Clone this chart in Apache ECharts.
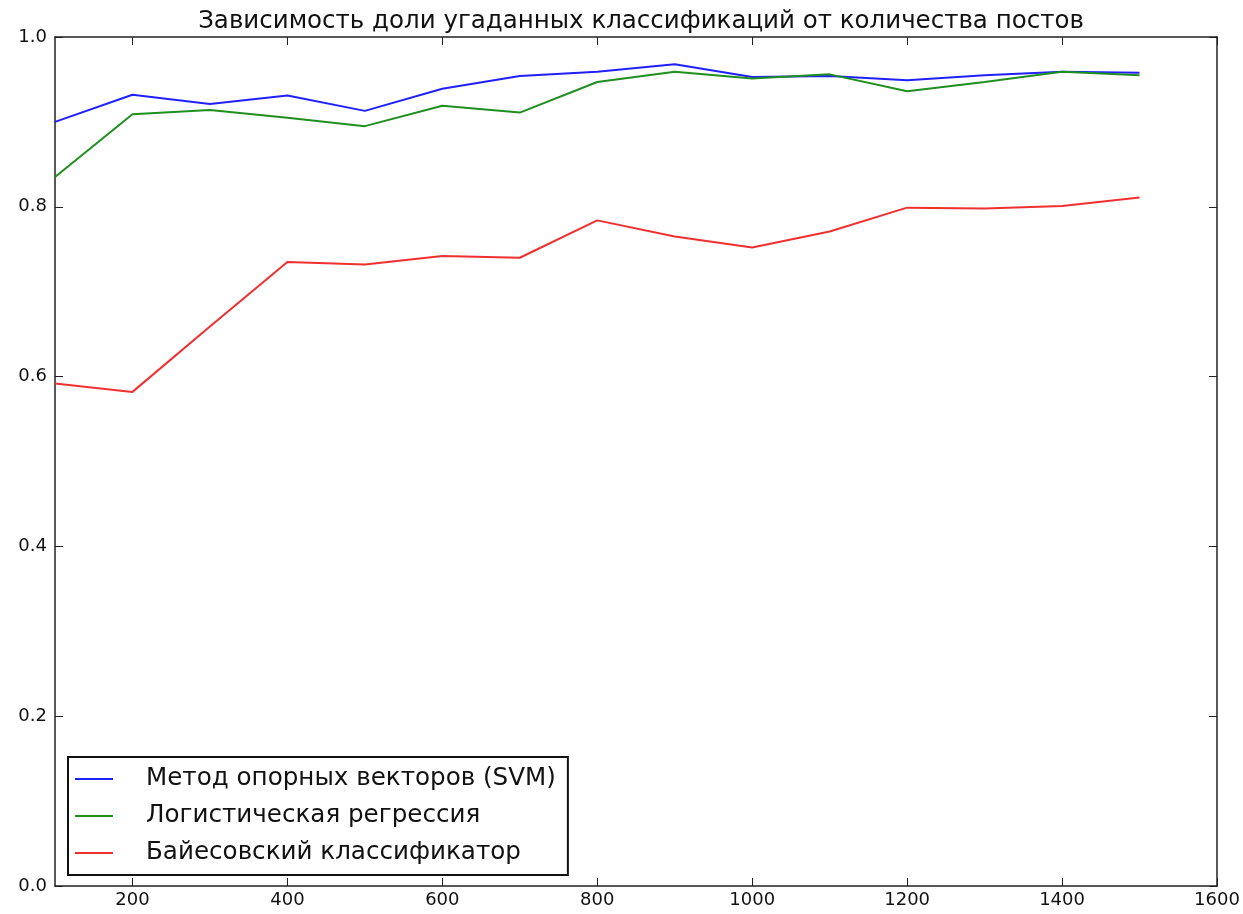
<!DOCTYPE html>
<html>
<head>
<meta charset="utf-8">
<script src="https://cdn.jsdelivr.net/npm/echarts@6/dist/echarts.min.js"></script>
<style>
  html, body { margin: 0; padding: 0; background: #fff; }
  #chart { width: 1243px; height: 914px; }
</style>
</head>
<body>
<div id="chart"></div>
<script>
// число постов
const posts = [100, 200, 300, 400, 500, 600, 700, 800, 900, 1000, 1100, 1200, 1300, 1400, 1500];
const svm = [0.900, 0.932, 0.921, 0.931, 0.913, 0.939, 0.954, 0.959, 0.968, 0.953, 0.954, 0.949, 0.955, 0.959, 0.958];
const logreg = [0.835, 0.909, 0.914, 0.905, 0.895, 0.919, 0.911, 0.947, 0.959, 0.951, 0.956, 0.936, 0.947, 0.959, 0.955];
const bayes = [0.592, 0.582, 0.659, 0.735, 0.732, 0.742, 0.740, 0.784, 0.765, 0.752, 0.771, 0.799, 0.798, 0.801, 0.811];
const names = ["Метод опорных векторов (SVM)", "Логистическая регрессия", "Байесовский классификатор"];
const xTicks = [200, 400, 600, 800, 1000, 1200, 1400, 1600];

const font = "DejaVu Sans";
const chart = echarts.init(document.getElementById("chart"));

const toPairs = vals => posts.map((p, i) => [p, vals[i]]);

const lineSeries = (name, vals, color) => ({
  name: name,
  type: "line",
  data: toPairs(vals),
  symbol: "none",
  animation: false,
  lineStyle: { color: color, width: 2 },
  itemStyle: { color: color },
});

const frameAxis = () => ({
  axisLine: { show: true, onZero: false, lineStyle: { color: "#222", width: 1.5 } },
  axisTick: { show: true, inside: true, length: 8, lineStyle: { color: "#222" } },
  splitLine: { show: false },
});

const xFrame = (pos, showLabel) => {
  const a = Object.assign({ type: "value", min: 100, max: 1600, position: pos }, frameAxis());
  a.axisTick.customValues = xTicks;
  a.axisLabel = showLabel
    ? { customValues: xTicks, fontFamily: font, fontSize: 18, color: "#111", margin: 5, formatter: v => String(v) }
    : { show: false };
  return a;
};

const yFrame = (pos, showLabel) => Object.assign({
  type: "value", min: 0, max: 1, interval: 0.2, position: pos,
  axisLabel: showLabel
    ? { fontFamily: font, fontSize: 18, color: "#111", margin: 8, formatter: v => v.toFixed(1) }
    : { show: false },
}, frameAxis());

chart.setOption({
  backgroundColor: "#fff",
  title: {
    text: "Зависимость доли угаданных классификаций от количества постов",
    left: 636,
    textAlign: "center",
    top: 4,
    textStyle: { fontFamily: font, fontSize: 24.5, fontWeight: "normal", color: "#111" },
  },
  grid: { left: 55, right: 26, top: 37, bottom: 28, outerBoundsMode: "none", containLabel: false },
  legend: {
    orient: "vertical",
    left: 68,
    top: 757,
    padding: [9, 12, 9, 7],
    itemWidth: 38,
    itemHeight: 2,
    itemGap: 11,
    icon: "rect",
    borderColor: "#111",
    borderWidth: 2,
    borderRadius: 0,
    backgroundColor: "#fff",
    textStyle: { fontFamily: font, fontSize: 24.6, color: "#111", lineHeight: 26, padding: [0, 0, 0, 28] },
    data: names,
  },
  xAxis: [xFrame("bottom", true), xFrame("top", false)],
  yAxis: [yFrame("left", true), yFrame("right", false)],
  series: [
    lineSeries(names[0], svm, "#2020ff"),
    lineSeries(names[1], logreg, "#1f8f1f"),
    lineSeries(names[2], bayes, "#f03030"),
  ],
});
</script>
</body>
</html>
